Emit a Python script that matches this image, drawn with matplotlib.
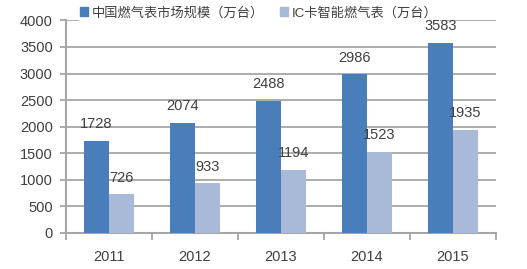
import matplotlib
matplotlib.use("Agg")
import matplotlib.pyplot as plt
import numpy as np
from matplotlib.patches import Patch

years = ["2011", "2012", "2013", "2014", "2015"]
market = [1728, 2074, 2488, 2986, 3583]
ic_meter = [726, 933, 1194, 1523, 1935]
series_names = ["中国燃气表市场规模（万台）", "IC卡智能燃气表（万台）"]
yticks = [0, 500, 1000, 1500, 2000, 2500, 3000, 3500, 4000]

plt.rcParams['font.family'] = ['Liberation Sans', 'Noto Sans CJK SC', 'DejaVu Sans']

c_blue = "#4A7EBB"
c_light = "#A8BAD8"
txt = "#404040"
grid_c = "#A6A6A6"
fs = 10.5

fig = plt.figure(figsize=(5.27, 2.69), dpi=100)
ax = fig.add_axes([66/527, 1-233/269, (496-66)/527, (233-20.4)/269])

x = np.arange(len(years))
w = 0.29
ax.bar(x - w/2, market, w, color=c_blue, zorder=3)
ax.bar(x + w/2, ic_meter, w, color=c_light, zorder=3)

for xi, v in zip(x, market):
    ax.annotate(str(v), (xi - w/2, v), xytext=(0, 7), textcoords="offset points",
                ha="center", va="bottom", fontsize=fs, color=txt, zorder=10,
                annotation_clip=False)
for xi, v in zip(x, ic_meter):
    ax.annotate(str(v), (xi + w/2, v), xytext=(0, 7), textcoords="offset points",
                ha="center", va="bottom", fontsize=fs, color=txt, zorder=10,
                annotation_clip=False)

ax.set_xlim(-0.5, len(years) - 0.5)
ax.set_ylim(0, 4000)
ax.set_yticks(yticks)
ax.set_yticklabels([str(t) for t in yticks], fontsize=fs, color=txt)
ax.set_xticks(x)
ax.set_xticklabels(years, fontsize=fs, color=txt)
ax.tick_params(axis="x", length=0, pad=12)
ax.set_xticks(np.arange(-0.5, len(years)), minor=True)
ax.tick_params(axis="x", which="minor", length=5, width=1.3, color=grid_c, direction="out")
ax.tick_params(axis="y", length=4.5, width=1.3, color=grid_c, direction="out", pad=5)

ax.yaxis.grid(True, color=grid_c, linewidth=1.3, zorder=0)
ax.set_axisbelow(True)
for s in ["top", "right"]:
    ax.spines[s].set_visible(False)
for s in ["left", "bottom"]:
    ax.spines[s].set_color(grid_c)
    ax.spines[s].set_linewidth(1.5)

handles = [Patch(color=c_blue), Patch(color=c_light)]
leg = ax.legend(handles, series_names, loc="center left", bbox_to_anchor=(79/527, 1-13/269),
                bbox_transform=fig.transFigure,
                ncol=2, frameon=True, fontsize=9.5, handlelength=0.6, handleheight=0.6,
                handletextpad=0.3, columnspacing=1.2, borderpad=0.1, borderaxespad=0,
                framealpha=1, fancybox=False)
leg.set_zorder(5)
leg.get_frame().set_facecolor("white")
leg.get_frame().set_edgecolor("white")
for t in leg.get_texts():
    t.set_color(txt)

fig.savefig("out.png", dpi=100, facecolor="white")
